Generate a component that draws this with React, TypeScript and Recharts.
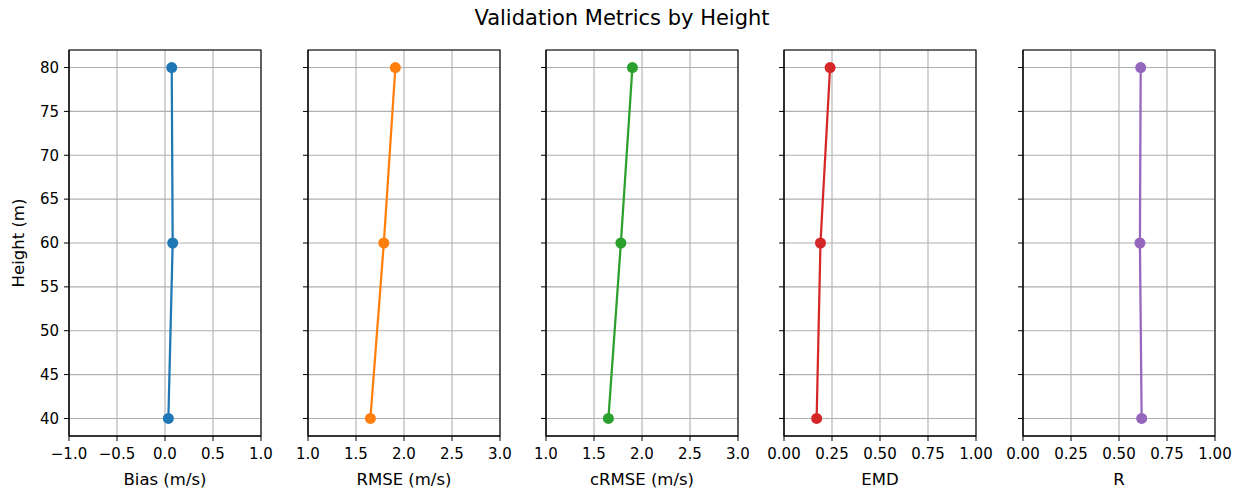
import React from 'react';
import { LineChart, Line, XAxis, YAxis, CartesianGrid, ReferenceArea } from 'recharts';

const heights = [40, 60, 80];
const heightTicks = [40, 45, 50, 55, 60, 65, 70, 75, 80];
const biasValues = [0.035, 0.08, 0.07];
const rmseValues = [1.65, 1.79, 1.91];
const crmseValues = [1.65, 1.78, 1.9];
const emdValues = [0.17, 0.19, 0.24];
const rValues = [0.618, 0.609, 0.613];

const biasTicks = [-1, -0.5, 0, 0.5, 1];
const rmseTicks = [1, 1.5, 2, 2.5, 3];
const unitTicks = [0, 0.25, 0.5, 0.75, 1];

const FONT = 'DejaVu Sans, sans-serif';

type Panel = {
  label: string;
  values: number[];
  ticks: number[];
  decimals: number;
  color: string;
};

const panels: Panel[] = [
  { label: 'Bias (m/s)', values: biasValues, ticks: biasTicks, decimals: 1, color: '#1f77b4' },
  { label: 'RMSE (m/s)', values: rmseValues, ticks: rmseTicks, decimals: 1, color: '#ff7f0e' },
  { label: 'cRMSE (m/s)', values: crmseValues, ticks: rmseTicks, decimals: 1, color: '#2ca02c' },
  { label: 'EMD', values: emdValues, ticks: unitTicks, decimals: 2, color: '#d62728' },
  { label: 'R', values: rValues, ticks: unitTicks, decimals: 2, color: '#9467bd' },
];

const plotLefts = [69, 307.5, 546, 784, 1022.5];
const plotWidth = 192;
const plotTop = 50;
const plotBottom = 436;
const totalH = 490;
const rightPad = 22;

const fmt = (d: number) => (v: number) => v.toFixed(d).replace('-', '\u2212');

function PanelChart({ p, idx }: { p: Panel; idx: number }) {
  const L = plotLefts[idx];
  const yW = idx === 0 ? L : 50;
  const chartLeft = L - yW;
  const data = heights.map((h, i) => ({ height: h, value: p.values[i] }));
  const dom: [number, number] = [p.ticks[0], p.ticks[p.ticks.length - 1]];
  return (
    <div style={{ position: 'absolute', left: chartLeft, top: 0 }}>
      <LineChart
        width={yW + plotWidth + rightPad}
        height={totalH}
        data={data}
        margin={{ top: plotTop, right: rightPad, bottom: 0, left: 0 }}
        style={{ overflow: 'visible' }}
      >
        <CartesianGrid stroke="#b0b0b0" strokeWidth={1.1} />
        <XAxis
          dataKey="value"
          type="number"
          domain={dom}
          ticks={p.ticks}
          allowDataOverflow
          height={totalH - plotBottom}
          tickFormatter={fmt(p.decimals)}
          tick={{ fill: '#000', fontSize: 15, fontFamily: FONT }}
          tickLine={{ stroke: '#000' }}
          axisLine={{ stroke: '#000' }}
          tickSize={5}
          tickMargin={7}
          interval={0}
          label={{ value: p.label, position: 'insideBottom', offset: 5, fill: '#000', fontSize: 16.5, fontFamily: FONT }}
        />
        <YAxis
          type="number"
          domain={[38, 82]}
          ticks={heightTicks}
          allowDataOverflow
          width={yW}
          interval={0}
          tickFormatter={idx === 0 ? (v: number) => String(v) : () => ''}
          tick={{ fill: '#000', fontSize: 15, fontFamily: FONT }}
          tickLine={{ stroke: '#000' }}
          axisLine={{ stroke: '#000' }}
          tickSize={5}
          tickMargin={5}
          label={
            idx === 0
              ? { value: 'Height (m)', angle: -90, position: 'insideLeft', offset: 18, fill: '#000', fontSize: 16.5, fontFamily: FONT, style: { textAnchor: 'middle' } }
              : undefined
          }
        />
        <ReferenceArea x1={dom[0]} x2={dom[1]} y1={38} y2={82} stroke="#000" strokeWidth={1.1} fill="none" fillOpacity={0} ifOverflow="visible" />
        <Line
          dataKey="height"
          type="linear"
          stroke={p.color}
          strokeWidth={2.25}
          dot={{ r: 5.5, fill: p.color, stroke: p.color, strokeWidth: 0 }}
          activeDot={false}
          isAnimationActive={false}
        />
      </LineChart>
    </div>
  );
}

export default function App() {
  return (
    <div style={{ position: 'absolute', left: 0, top: 0, width: 1244, height: 490, background: '#fff', fontFamily: FONT }}>
      <div
        style={{
          position: 'absolute',
          left: 0,
          width: 1244,
          top: 6,
          textAlign: 'center',
          fontSize: 21,
          color: '#000',
          lineHeight: '24px',
        }}
      >
        Validation Metrics by Height
      </div>
      {panels.map((p, i) => (
        <PanelChart key={p.label} p={p} idx={i} />
      ))}
    </div>
  );
}
